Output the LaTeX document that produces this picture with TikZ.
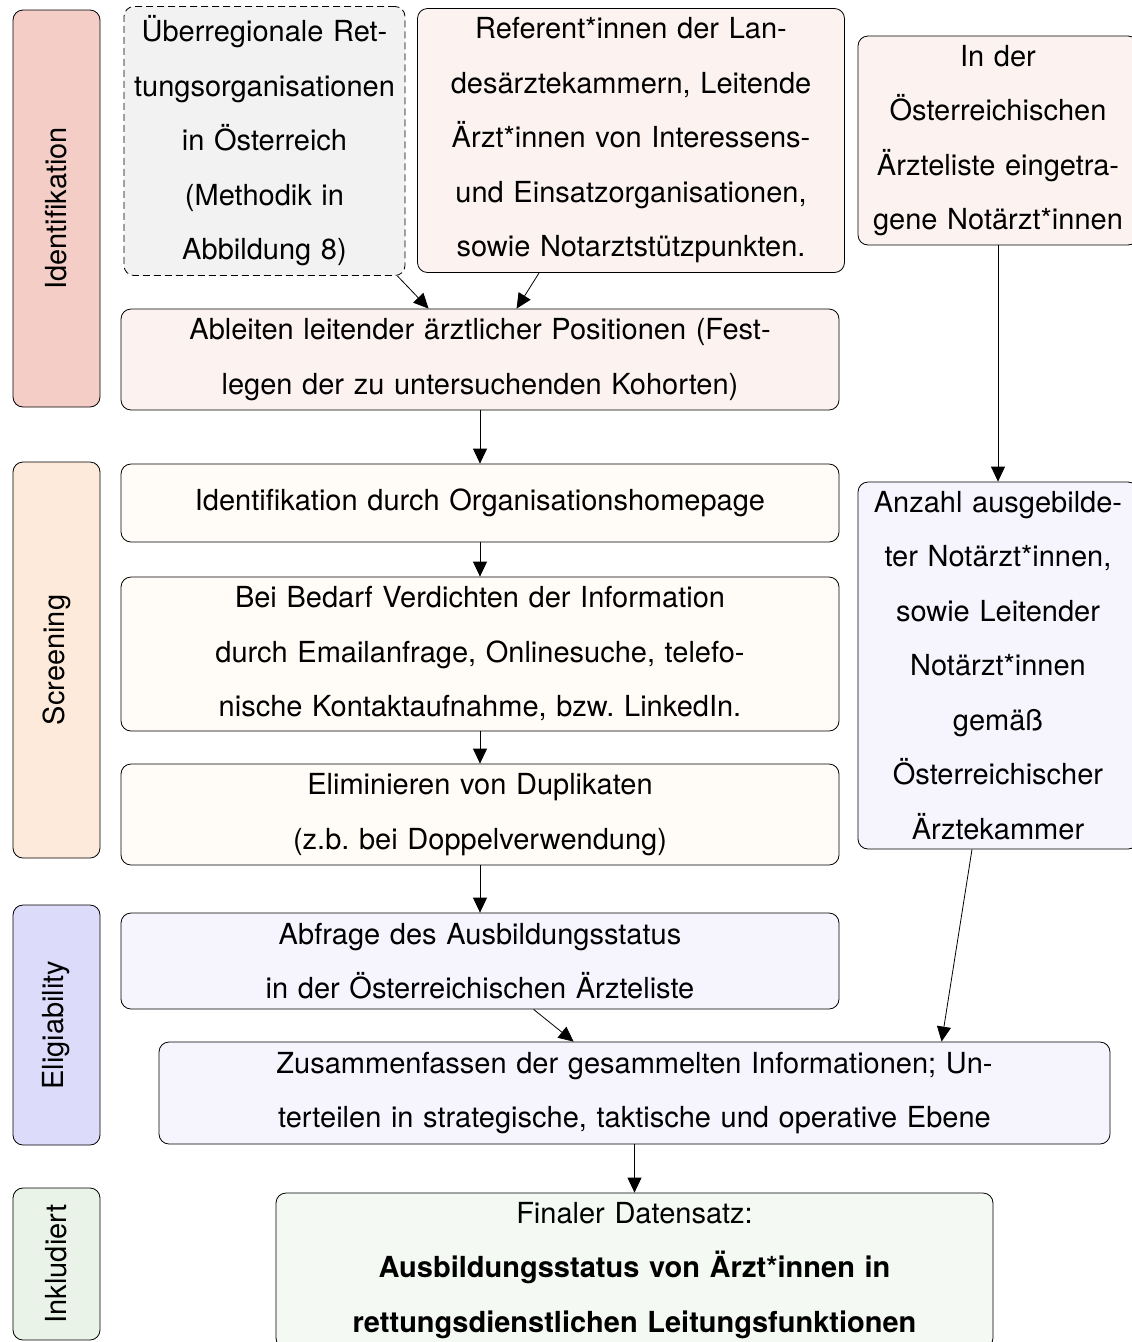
\documentclass[tikz,border=0pt]{standalone}
\usepackage{fontspec}
\setmainfont{TeX Gyre Heros}
\usetikzlibrary{arrows.meta}
\frenchspacing
\definecolor{phIdent}{RGB}{243,205,198}
\definecolor{phScreen}{RGB}{253,234,218}
\definecolor{phElig}{RGB}{221,219,250}
\definecolor{phIncl}{RGB}{233,243,231}
\definecolor{bxPink}{RGB}{252,243,241}
\definecolor{bxCream}{RGB}{255,251,246}
\definecolor{bxLav}{RGB}{246,245,254}
\definecolor{bxGreen}{RGB}{244,249,243}
\definecolor{bxGray}{RGB}{242,242,242}
\tikzset{
  box/.style={draw=black, line width=0.8pt, rounded corners=10pt, align=center,
    inner sep=2pt, font=\fontsize{29}{54.5}\selectfont},
  phase/.style={draw=black, line width=0.8pt, rounded corners=10pt, rotate=90,
    inner sep=0pt, font=\fontsize{29}{35}\selectfont},
  arr/.style={-{Triangle[length=15pt,width=14pt]}, line width=0.8pt},
}
\begin{document}
\begin{tikzpicture}[x=1pt,y=-1pt]
\useasboundingbox (0,0) rectangle (1132,1342);
\clip (0,0) rectangle (1132,1342);
% phase boxes
\node[phase, fill=phIdent, minimum width=397pt, minimum height=87pt] (pIdent) at (56.5,208.5) {Identifikation};
\node[phase, fill=phScreen, minimum width=396pt, minimum height=87pt] (pScreen) at (56.5,660) {Screening};
\node[phase, fill=phElig, minimum width=240pt, minimum height=87pt] (pElig) at (56.5,1025) {Eligiability};
\node[phase, fill=phIncl, minimum width=152pt, minimum height=87pt] (pIncl) at (56.5,1264) {Inkludiert};
% top boxes
\node[box, fill=bxGray, dash pattern=on 7pt off 4pt, minimum width=281pt, minimum height=269pt, text width=275pt] (uber) at (264.5,141)
  {Überregionale Ret-\\tungsorganisationen\\in Österreich\\(Methodik in\\Abbildung 8)};
\node[box, fill=bxPink, minimum width=427pt, minimum height=264pt, text width=420pt] (ref) at (631,140.5)
  {Referent*innen der Lan-\\desärztekammern, Leitende\\Ärzt*innen von Interessens-\\und Einsatzorganisationen,\\sowie Notarztstützpunkten.};
\node[box, fill=bxPink, minimum width=280pt, minimum height=209pt, text width=270pt] (inder) at (998,140.5)
  {In der\\Österreichischen\\Ärzteliste eingetra-\\gene Notärzt*innen};
\node[box, fill=bxPink, minimum width=718pt, minimum height=101pt, text width=710pt] (abl) at (480,359.5)
  {Ableiten leitender ärztlicher Positionen (Fest-\\legen der zu untersuchenden Kohorten)};
% screening
\node[box, fill=bxCream, minimum width=718pt, minimum height=78pt, text width=710pt] (home) at (480,503)
  {Identifikation durch Organisationshomepage};
\node[box, fill=bxCream, minimum width=718pt, minimum height=154pt, text width=710pt] (bedarf) at (480,654)
  {Bei Bedarf Verdichten der Information\\durch Emailanfrage, Onlinesuche, telefo-\\nische Kontaktaufnahme, bzw. LinkedIn.};
\node[box, fill=bxCream, minimum width=718pt, minimum height=101pt, text width=710pt] (dup) at (480,814.5)
  {Eliminieren von Duplikaten\\(z.b. bei Doppelverwendung)};
\node[box, fill=bxLav, minimum width=280pt, minimum height=367pt, text width=270pt] (anz) at (998,665.5)
  {Anzahl ausgebilde-\\ter Notärzt*innen,\\sowie Leitender\\Notärzt*innen\\gemäß\\Österreichischer\\Ärztekammer};
% eligibility
\node[box, fill=bxLav, minimum width=718pt, minimum height=96pt, text width=710pt] (abf) at (480,961)
  {Abfrage des Ausbildungsstatus\\in der Österreichischen Ärzteliste};
\node[box, fill=bxLav, minimum width=951pt, minimum height=102pt, text width=940pt] (zus) at (634.5,1093)
  {Zusammenfassen der gesammelten Informationen; Un-\\terteilen in strategische, taktische und operative Ebene};
% included
\node[box, fill=bxGreen, minimum width=717pt, minimum height=155pt, text width=705pt] (fin) at (634.5,1270.5)
  {Finaler Datensatz:\\\textbf{Ausbildungsstatus von Ärzt*innen in}\\\textbf{rettungsdienstlichen Leitungsfunktionen}};
% connectors
\draw[arr] ([xshift=-8pt]uber.south east) -- ([xshift=308pt]abl.north west);
\draw[arr] ([xshift=122pt]ref.south west) -- ([xshift=396pt]abl.north west);
\draw[arr] (abl.south) -- (home.north);
\draw[arr] (home.south) -- (bedarf.north);
\draw[arr] (bedarf.south) -- (dup.north);
\draw[arr] (dup.south) -- (abf.north);
\draw[arr] (inder.south) -- (anz.north);
\draw[arr] ([xshift=413pt]abf.south west) -- ([xshift=415pt]zus.north west);
\draw[arr] ([xshift=-26pt]anz.south) -- ([xshift=783pt]zus.north west);
\draw[arr] (zus.south) -- (fin.north);
\end{tikzpicture}
\end{document}
